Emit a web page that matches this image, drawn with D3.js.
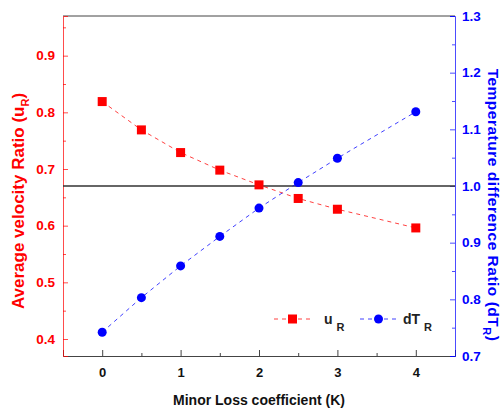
<!DOCTYPE html>
<html>
<head>
<meta charset="utf-8">
<script src="https://cdn.jsdelivr.net/npm/d3@7"></script>
<style>
  body { margin: 0; background: #fff; }
  svg text { font-family: "Liberation Sans", Arial, sans-serif; font-weight: bold; }
</style>
</head>
<body>
<div id="chart"></div>
<script>
// Minor loss coefficient K
const kValues = [0, 0.5, 1, 1.5, 2, 2.5, 3, 4];
// Average velocity ratio uR (left axis)
const uR = [0.819, 0.769, 0.729, 0.698, 0.672, 0.648, 0.629, 0.596];
// Temperature difference ratio dTR (right axis)
const dTR = [0.742, 0.803, 0.859, 0.911, 0.961, 1.006, 1.049, 1.131];
const xTicks = [0, 1, 2, 3, 4];
const leftTicks = [0.4, 0.5, 0.6, 0.7, 0.8, 0.9];
const rightTicks = [0.7, 0.8, 0.9, 1.0, 1.1, 1.2, 1.3];
const refLine = 1.0;

const width = 503, height = 411;
const margin = { top: 16, right: 48, bottom: 55, left: 63 };
const red = "#ff0000", blue = "#0000ff";

const svg = d3.select("#chart").append("svg")
  .attr("width", width)
  .attr("height", height);

const x = d3.scaleLinear().domain([-0.5, 4.5]).range([margin.left, width - margin.right]);
const yL = d3.scaleLinear().domain([0.37, 0.97]).range([height - margin.bottom, margin.top]);
const yR = d3.scaleLinear().domain([0.7, 1.3]).range([height - margin.bottom, margin.top]);

const x0 = margin.left, x1 = width - margin.right;
const y0 = height - margin.bottom, y1 = margin.top;

// frame: top line
svg.append("line").attr("x1", x0).attr("x2", x1).attr("y1", y1).attr("y2", y1)
  .attr("stroke", "#444").attr("stroke-width", 1);

// bottom axis
const xAxis = svg.append("g").attr("transform", `translate(0,${y0})`)
  .call(d3.axisBottom(x).tickValues(xTicks).tickSize(-6).tickPadding(12).tickFormat(d3.format("d")));
xAxis.select(".domain").attr("stroke", "#444");
xAxis.selectAll(".tick line").attr("stroke", "#444");
xAxis.selectAll("text").attr("font-size", 13).attr("fill", "#111");
svg.append("g").attr("transform", `translate(0,${y0})`)
  .call(d3.axisBottom(x).tickValues([0.5, 1.5, 2.5, 3.5]).tickSize(-3).tickFormat(""))
  .call(g => g.select(".domain").remove())
  .selectAll("line").attr("stroke", "#444");

// left axis
const leftAxis = svg.append("g").attr("transform", `translate(${x0},0)`)
  .call(d3.axisLeft(yL).tickValues(leftTicks).tickSize(-5).tickPadding(8).tickFormat(d3.format(".1f")));
leftAxis.select(".domain").attr("stroke", red).attr("stroke-opacity", 0.7);
leftAxis.selectAll(".tick line").attr("stroke", red).attr("stroke-opacity", 0.7);
leftAxis.selectAll("text").attr("font-size", 13.5).attr("fill", red);
svg.append("g").attr("transform", `translate(${x0},0)`)
  .call(d3.axisLeft(yL).tickValues([0.45, 0.55, 0.65, 0.75, 0.85, 0.95]).tickSize(-3).tickFormat(""))
  .call(g => g.select(".domain").remove())
  .selectAll("line").attr("stroke", red).attr("stroke-opacity", 0.7);

// right axis
const rightAxis = svg.append("g").attr("transform", `translate(${x1},0)`)
  .call(d3.axisRight(yR).tickValues(rightTicks).tickSize(-5).tickPadding(7).tickFormat(d3.format(".1f")));
rightAxis.select(".domain").attr("stroke", blue).attr("stroke-opacity", 0.7);
rightAxis.selectAll(".tick line").attr("stroke", blue).attr("stroke-opacity", 0.7);
rightAxis.selectAll("text").attr("font-size", 13.5).attr("fill", blue);
svg.append("g").attr("transform", `translate(${x1},0)`)
  .call(d3.axisRight(yR).tickValues([0.75, 0.85, 0.95, 1.05, 1.15, 1.25]).tickSize(-3).tickFormat(""))
  .call(g => g.select(".domain").remove())
  .selectAll("line").attr("stroke", blue).attr("stroke-opacity", 0.7);

// reference line at dTR = 1.0
svg.append("line").attr("x1", x0).attr("x2", x1)
  .attr("y1", yR(refLine)).attr("y2", yR(refLine))
  .attr("stroke", "#333").attr("stroke-width", 1.3);

// uR series
const uData = kValues.map((k, i) => [k, uR[i]]);
svg.append("path").datum(uData)
  .attr("fill", "none").attr("stroke", red).attr("stroke-opacity", 0.75)
  .attr("stroke-width", 1).attr("stroke-dasharray", "4,4")
  .attr("d", d3.line().x(d => x(d[0])).y(d => yL(d[1])));
svg.append("g").selectAll("rect").data(uData).enter().append("rect")
  .attr("x", d => x(d[0]) - 4.5).attr("y", d => yL(d[1]) - 4.5)
  .attr("width", 9).attr("height", 9).attr("fill", red);

// dTR series
const tData = kValues.map((k, i) => [k, dTR[i]]);
svg.append("path").datum(tData)
  .attr("fill", "none").attr("stroke", blue).attr("stroke-opacity", 0.75)
  .attr("stroke-width", 1).attr("stroke-dasharray", "4,4")
  .attr("d", d3.line().x(d => x(d[0])).y(d => yR(d[1])));
svg.append("g").selectAll("circle").data(tData).enter().append("circle")
  .attr("cx", d => x(d[0])).attr("cy", d => yR(d[1]))
  .attr("r", 4.5).attr("fill", blue);

// legend
const legend = [
  { color: red, shape: "rect", lx: 274, main: "u", tx: 324 },
  { color: blue, shape: "circle", lx: 360, main: "dT", tx: 403 }
];
const ly = 319;
legend.forEach(l => {
  svg.append("line").attr("x1", l.lx).attr("x2", l.lx + 37).attr("y1", ly).attr("y2", ly)
    .attr("stroke", l.color).attr("stroke-opacity", 0.75).attr("stroke-dasharray", "4,4");
  if (l.shape === "rect") {
    svg.append("rect").attr("x", l.lx + 18.5 - 4.5).attr("y", ly - 4.5)
      .attr("width", 9).attr("height", 9).attr("fill", l.color);
  } else {
    svg.append("circle").attr("cx", l.lx + 18.5).attr("cy", ly).attr("r", 4.5).attr("fill", l.color);
  }
  const t = svg.append("text").attr("x", l.tx).attr("y", ly + 5)
    .attr("font-size", 14).attr("fill", "#222");
  t.append("tspan").text(l.main);
  t.append("tspan").attr("dx", 4).attr("dy", 7).attr("font-size", 11).text("R");
});

// axis titles
svg.append("text")
  .attr("transform", `translate(${x(2)},405)`)
  .attr("text-anchor", "middle").attr("font-size", 14).attr("fill", "#111")
  .text("Minor Loss coefficient (K)");

const lt = svg.append("text")
  .attr("transform", `translate(24,201) rotate(-90)`)
  .attr("text-anchor", "middle").attr("font-size", 17).attr("fill", red);
lt.append("tspan").text("Average velocity Ratio (u");
lt.append("tspan").attr("dy", 5).attr("font-size", 11).text("R");
lt.append("tspan").attr("dy", -5).text(")");

const rt = svg.append("text")
  .attr("transform", `translate(488,205) rotate(90)`)
  .attr("text-anchor", "middle").attr("font-size", 15.5).attr("letter-spacing", 0.5)
  .attr("fill", blue);
rt.append("tspan").text("Temperature difference Ratio (dT");
rt.append("tspan").attr("dy", 5).attr("font-size", 11).text("R");
rt.append("tspan").attr("dy", -5).text(")");
</script>
</body>
</html>
